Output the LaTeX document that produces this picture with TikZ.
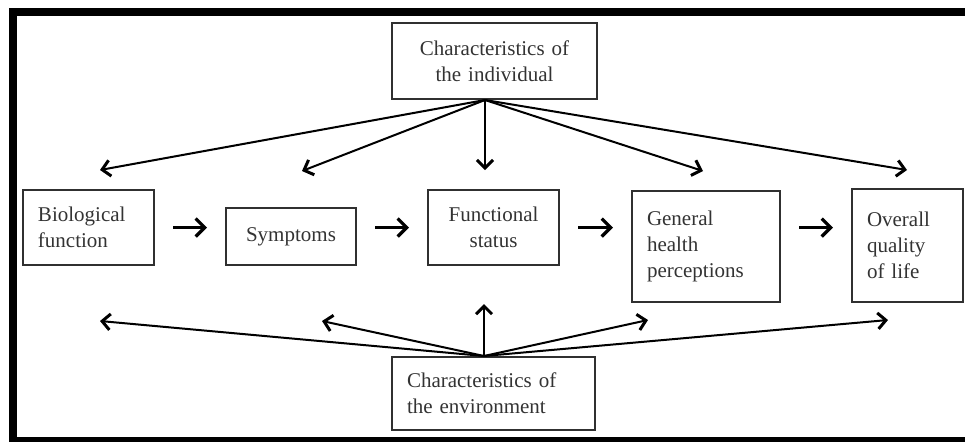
\documentclass[tikz,border=0pt]{standalone}
\usepackage{fontspec}
\setmainfont{Liberation Serif}
\usetikzlibrary{arrows.meta}
\definecolor{boxgray}{HTML}{303030}
\definecolor{textgray}{HTML}{333333}
\tikzset{
    box/.style={draw=boxgray, line width=1pt, inner xsep=7.5pt, inner ysep=0pt,
        font=\fontsize{10.5}{13}\selectfont, text=textgray},
    fan/.style={line width=1pt, -{Straight Barb[length=4pt,width=8pt,line width=1.5pt]}},
    flow/.style={line width=1.4pt, -{Straight Barb[length=4.5pt,width=9pt,line width=1.6pt]},
        shorten <=9pt, shorten >=9pt}
}
\begin{document}
\begin{tikzpicture}[x=0.5pt, y=-0.5pt]
            \useasboundingbox (0,0) rectangle (965,441);
            \begin{scope}
                \clip (0,0) rectangle (965,441);
                \draw [line width=4pt] (13,12) rectangle (969,441);
            \end{scope}
            % boxes
            \node [box, minimum width=102.5pt, minimum height=38pt, text width=87.5pt, align=center] (ind) at (494.5,61) {Characteristics of\\the individual};
            \node [box, minimum width=65.5pt, minimum height=37.5pt, text width=50.5pt, align=left] (bio) at (88.5,227.5) {Biological\\function};
            \node [box, minimum width=65pt, minimum height=28.5pt, text width=50pt, align=center] (sym) at (291,236.5) {Symptoms};
            \node [box, minimum width=65.5pt, minimum height=37.5pt, text width=50.5pt, align=center] (func) at (493.5,227.5) {Functional\\status};
            \node [box, minimum width=74pt, minimum height=55.5pt, text width=59pt, align=left] (gen) at (706,246.5) {General\\health\\perceptions};
            \node [box, minimum width=55.5pt, minimum height=56.5pt, text width=40.5pt, align=left] (qol) at (907.5,245.5) {Overall\\quality\\of life};
            \node [box, minimum width=101.5pt, minimum height=36.5pt, text width=86.5pt, align=left] (env) at (493.5,393.5) {Characteristics of\\the environment};
            % main chain
            \draw [flow] (bio.east) -- (bio.east -| sym.west);
            \draw [flow] (bio.east -| sym.east) -- (func.west);
            \draw [flow] (func.east) -- (func.east -| gen.west);
            \draw [flow] (func.east -| gen.east) -- (func.east -| qol.west);
            % fan from the individual
            \coordinate (ti) at ([xshift=-4.75pt]ind.south);
            \coordinate (ti1) at (100,170);
            \coordinate (ti2) at (302,171);
            \coordinate (ti3) at (485,170);
            \coordinate (ti4) at (703,171);
            \coordinate (ti5) at (907,170);
            \foreach \t in {ti1,ti2,ti3,ti4,ti5}
                \draw [fan] (ti) -- (\t);
            % fan from the environment
            \coordinate (te) at ([xshift=-4.75pt]env.north);
            \coordinate (te1) at (100,321);
            \coordinate (te2) at (322,321);
            \coordinate (te3) at (484,304);
            \coordinate (te4) at (648,320);
            \coordinate (te5) at (888,320);
            \foreach \t in {te1,te2,te3,te4,te5}
                \draw [fan] (te) -- (\t);
        \end{tikzpicture}
\end{document}
